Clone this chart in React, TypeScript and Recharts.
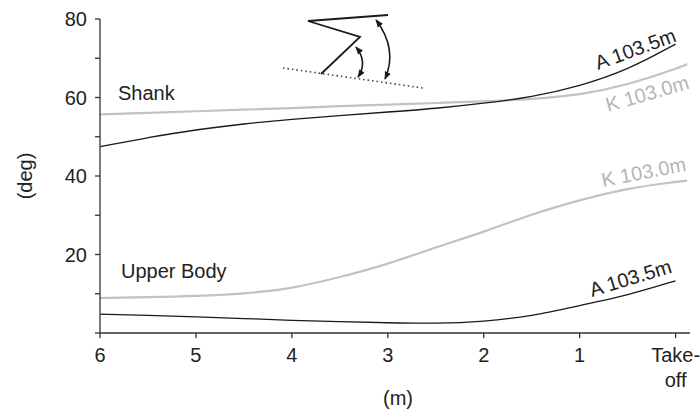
import React from 'react';
import { LineChart, Line, XAxis, YAxis, Customized } from 'recharts';

// Distance before take-off (m); the K curves run a little past the take-off mark
const distanceA = [6, 5.5, 5, 4.5, 4, 3.5, 3, 2.5, 2, 1.5, 1, 0.5, 0];
const distanceK = [6, 5.5, 5, 4.5, 4, 3.5, 3, 2.5, 2, 1.5, 1, 0.5, 0, -0.12];

// Segment angles (deg)
const shankA = [47.5, 49.8, 51.8, 53.3, 54.5, 55.4, 56.3, 57.2, 58.5, 60.1, 62.9, 67.0, 73.6];
const shankK = [55.7, 56.1, 56.5, 56.9, 57.3, 57.8, 58.2, 58.6, 59.0, 59.6, 60.6, 63.2, 67.3, 68.5];
const upperA = [4.8, 4.5, 4.1, 3.7, 3.2, 2.9, 2.6, 2.4, 2.9, 4.3, 7.0, 9.6, 13.3];
const upperK = [8.9, 9.1, 9.4, 10.0, 11.3, 14.2, 17.5, 21.9, 25.7, 30.3, 33.9, 36.9, 38.5, 38.8];

const xTicks = [6, 5, 4, 3, 2, 1, 0];
const xTickLabels = ['6', '5', '4', '3', '2', '1', 'Take-off'];
const yTicks = [0, 10, 20, 30, 40, 50, 60, 70, 80];
const yLabelled = [20, 40, 60, 80];

const FONT = '"Liberation Sans", Arial, Helvetica, sans-serif';
const TEXT = '#222';
const DARK = '#1a1a1a';
const LIGHT = '#c2c2c2';
const LIGHT_TEXT = '#b5b5b5';
const FS = 20;

const toPoints = (xs: number[], ys: number[]) => xs.map((x, i) => ({ x, y: ys[i] }));

const XTick = (props: any) => {
  const { x, y, payload } = props;
  const idx = xTicks.indexOf(payload.value);
  const label = idx >= 0 ? xTickLabels[idx] : '';
  const parts = label.includes('-') ? [label.slice(0, label.indexOf('-') + 1), label.slice(label.indexOf('-') + 1)] : [label];
  return (
    <text x={x} y={y} textAnchor="middle" fill={TEXT} fontSize={FS} fontFamily={FONT}>
      {parts.map((p, i) => (
        <tspan key={i} x={x} dy={i === 0 ? '0.71em' : '1.25em'}>{p}</tspan>
      ))}
    </text>
  );
};

const YTick = (props: any) => {
  const { x, y, payload } = props;
  if (!yLabelled.includes(payload.value)) return null;
  return (
    <text x={x} y={y} dy="0.36em" textAnchor="end" fill={TEXT} fontSize={FS} fontFamily={FONT}>
      {payload.value}
    </text>
  );
};

// Annotations: curve names, axis titles and the small segment-angle sketch
const Overlay = () => (
  <g fontFamily={FONT} fontSize={FS}>
    <defs>
      <marker id="arrow" viewBox="0 0 10 10" refX="9" refY="5" markerWidth="5" markerHeight="5" orient="auto-start-reverse">
        <path d="M0,1 L10,5 L0,9 z" fill={DARK} />
      </marker>
    </defs>

    <text x={118} y={100} fill={TEXT}>Shank</text>
    <text x={121} y={278} fill={TEXT}>Upper Body</text>

    <text x={598} y={70} fill={TEXT} transform="rotate(-20 598 70)">A 103.5m</text>
    <text x={608} y={112} fill={LIGHT_TEXT} transform="rotate(-16 608 112)">K 103.0m</text>
    <text x={603} y={187} fill={LIGHT_TEXT} transform="rotate(-11 603 187)">K 103.0m</text>
    <text x={592} y={297} fill={TEXT} transform="rotate(-17 592 297)">A 103.5m</text>

    <text x={0} y={0} fill={TEXT} textAnchor="middle" transform="translate(32 176) rotate(-90)">(deg)</text>
    <text x={398} y={405} fill={TEXT} textAnchor="middle">(m)</text>

    <line x1={283} y1={68} x2={423} y2={88} stroke="#444" strokeWidth={1.6} strokeDasharray="1.5 3" />
    <polyline points="388,15 308,21 360,37 321,74" fill="none" stroke={DARK} strokeWidth={1.8} strokeLinejoin="miter" />
    <path d="M356,47 Q368,62 358,77" fill="none" stroke={DARK} strokeWidth={1.6} markerStart="url(#arrow)" markerEnd="url(#arrow)" />
    <path d="M376,20 Q398,49 385,79" fill="none" stroke={DARK} strokeWidth={1.6} markerStart="url(#arrow)" markerEnd="url(#arrow)" />
  </g>
);

export default function App() {
  return (
    <div style={{ position: 'absolute', left: 0, top: 0, width: 700, height: 412, background: '#fff' }}>
      <LineChart width={700} height={412} margin={{ top: 19, right: 10, bottom: 49, left: 40 }}>
        <XAxis
          type="number"
          dataKey="x"
          domain={[-0.15, 6]}
          reversed
          ticks={xTicks}
          allowDataOverflow
          tick={<XTick />}
          tickSize={5}
          tickMargin={10}
          height={30}
          axisLine={{ stroke: '#333', strokeWidth: 1.3 }}
          tickLine={{ stroke: '#333', strokeWidth: 1.3 }}
        />
        <YAxis
          type="number"
          domain={[0, 80]}
          ticks={yTicks}
          interval={0}
          tick={<YTick />}
          tickSize={5}
          tickMargin={8}
          width={60}
          axisLine={{ stroke: '#333', strokeWidth: 1.3 }}
          tickLine={{ stroke: '#333', strokeWidth: 1.3 }}
        />
        <Line data={toPoints(distanceK, shankK)} dataKey="y" type="basis" stroke={LIGHT} strokeWidth={2.2} dot={false} isAnimationActive={false} />
        <Line data={toPoints(distanceK, upperK)} dataKey="y" type="basis" stroke={LIGHT} strokeWidth={2.2} dot={false} isAnimationActive={false} />
        <Line data={toPoints(distanceA, shankA)} dataKey="y" type="basis" stroke={DARK} strokeWidth={1.3} dot={false} isAnimationActive={false} />
        <Line data={toPoints(distanceA, upperA)} dataKey="y" type="basis" stroke={DARK} strokeWidth={1.3} dot={false} isAnimationActive={false} />
        <Customized component={Overlay} />
      </LineChart>
    </div>
  );
}
